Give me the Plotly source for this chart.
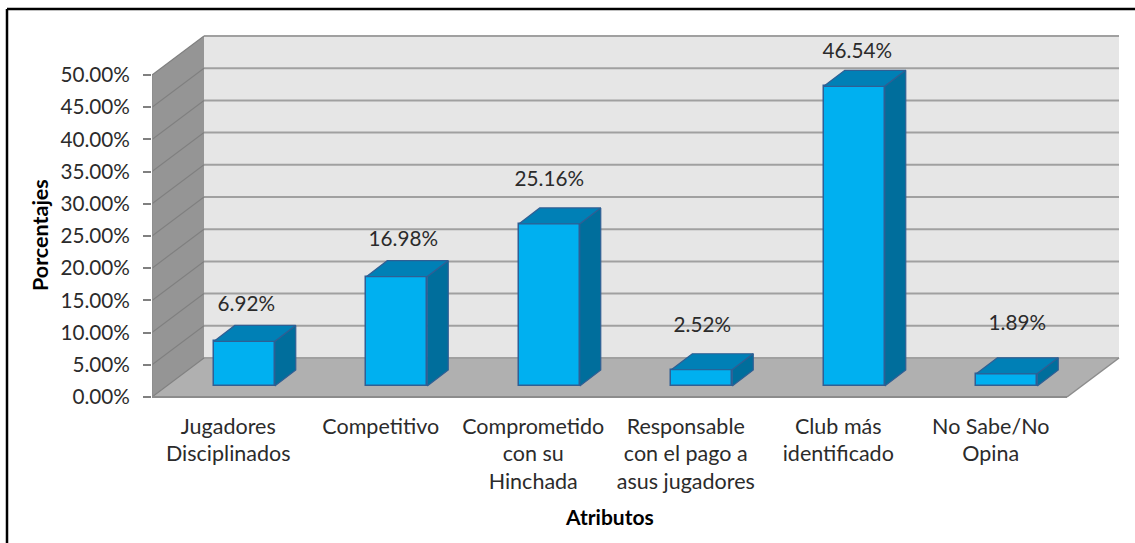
import plotly.graph_objects as go

categories = ["Jugadores<br>Disciplinados", "Competitivo", "Comprometido<br>con su<br>Hinchada",
              "Responsable<br>con el pago a<br>asus jugadores", "Club más<br>identificado", "No Sabe/No<br>Opina"]
values = [6.92, 16.98, 25.16, 2.52, 46.54, 1.89]
value_labels = ["6.92%", "16.98%", "25.16%", "2.52%", "46.54%", "1.89%"]
y_ticks = [0, 5, 10, 15, 20, 25, 30, 35, 40, 45, 50]
y_tick_labels = ["0.00%", "5.00%", "10.00%", "15.00%", "20.00%", "25.00%",
                 "30.00%", "35.00%", "40.00%", "45.00%", "50.00%"]

# style / geometry
FONT = "Lato"
TXT = "#2b2b2b"
PX_X, PX_Y = 152.5, 6.44                  # pixels per category / per percent
L, FRONT_BOTTOM = 152, 397
WALL_DX, WALL_DY = 52 / PX_X, 39 / PX_Y   # depth of the whole box
BAR_DX, BAR_DY = 16 / PX_X, 11 / PX_Y     # front face of the bars inside the box
DEPTH_DX, DEPTH_DY = 21 / PX_X, 16 / PX_Y # depth of the bars
BAR_W = 61 / PX_X
PAD = 3                                   # px of slack round the box
X0, X1 = -0.5, 5.5
Y_MAX = y_ticks[-1]
label_dx = [2, 6.5, 0, 0.5, 3, 10.5]      # px, hand placed labels in the source
label_lift = [19.5, 19.5, 27, 27, 17, 33] # px above the bar's top back edge

x_range = [X0, X1 + WALL_DX + PAD / PX_X]
y_range = [-PAD / PX_Y, Y_MAX + WALL_DY + PAD / PX_Y]
plot_w = (x_range[1] - x_range[0]) * PX_X
plot_h = (y_range[1] - y_range[0]) * PX_Y
top_px = FRONT_BOTTOM + PAD - plot_h


def poly(xs, ys, fill, line=None, lw=0):
    path = "M " + " L ".join(f"{a},{b}" for a, b in zip(xs, ys)) + " Z"
    return dict(type="path", path=path, xref="x", yref="y", fillcolor=fill, layer="below",
                line=dict(color=line or fill, width=lw))


def seg(x0, y0, x1, y1, color, w):
    return dict(type="line", x0=x0, y0=y0, x1=x1, y1=y1, xref="x", yref="y",
                layer="below", line=dict(color=color, width=w))


def px(xp, yp):
    """paper fractions for a pixel position on the page"""
    return (xp - L) / plot_w, (FRONT_BOTTOM + PAD - yp) / plot_h


shapes = [
    poly([X0 + WALL_DX, X1 + WALL_DX, X1 + WALL_DX, X0 + WALL_DX],
         [WALL_DY, WALL_DY, Y_MAX + WALL_DY, Y_MAX + WALL_DY], "#e6e6e6"),
    poly([X0, X0 + WALL_DX, X0 + WALL_DX, X0],
         [0, WALL_DY, Y_MAX + WALL_DY, Y_MAX], "#959595"),
    poly([X0, X1, X1 + WALL_DX, X0 + WALL_DX],
         [0, 0, WALL_DY, WALL_DY], "#b0b0b0"),
]
for t in y_ticks:
    shapes.append(seg(X0 + WALL_DX, t + WALL_DY, X1 + WALL_DX, t + WALL_DY, "#a0a0a0", 2))
    shapes.append(seg(X0, t, X0 + WALL_DX, t + WALL_DY, "#808080", 1.2))
shapes += [
    seg(X0, 0, X1, 0, "#8c8c8c", 2),
    seg(X1, 0, X1 + WALL_DX, WALL_DY, "#8c8c8c", 1.5),
    seg(X0, 0, X0, Y_MAX, "#8c8c8c", 1.5),
]
# outer frame of the chart, running off the page on the right and at the bottom
fx0, fy0 = px(7, 9)
fx1, fy1 = px(1140, 550)
for a, b, c, d in [(fx0, fy0, fx1, fy0), (fx0, fy0, fx0, fy1)]:
    shapes.append(dict(type="line", xref="paper", yref="paper", x0=a, y0=b, x1=c, y1=d,
                       line=dict(color="#000000", width=2.5)))

xs = list(range(len(values)))
fronts_l = [i + BAR_DX - BAR_W / 2 for i in xs]
fronts_r = [i + BAR_DX + BAR_W / 2 for i in xs]
EDGE = "#2f5f94"

top_x, top_y, side_x, side_y = [], [], [], []
for l, r, v in zip(fronts_l, fronts_r, values):
    t = v + BAR_DY
    top_x += [l, r, r + DEPTH_DX, l + DEPTH_DX, l, None]
    top_y += [t, t, t + DEPTH_DY, t + DEPTH_DY, t, None]
    side_x += [r, r + DEPTH_DX, r + DEPTH_DX, r, r, None]
    side_y += [BAR_DY, BAR_DY + DEPTH_DY, t + DEPTH_DY, t, BAR_DY, None]

fig = go.Figure()
fig.add_bar(x=[i + BAR_DX for i in xs], y=values, base=BAR_DY, width=BAR_W,
            marker=dict(color="#00b0f0", line=dict(color=EDGE, width=1.5)), hoverinfo="skip")
fig.add_scatter(x=top_x, y=top_y, mode="lines", fill="toself", fillcolor="#0080b6",
                line=dict(color=EDGE, width=1.2), hoverinfo="skip")
fig.add_scatter(x=side_x, y=side_y, mode="lines", fill="toself", fillcolor="#006e9c",
                line=dict(color=EDGE, width=1.2), hoverinfo="skip")
fig.add_scatter(
    x=[i + BAR_DX + d / PX_X for i, d in zip(xs, label_dx)],
    y=[v + BAR_DY + DEPTH_DY + lift / PX_Y for v, lift in zip(values, label_lift)],
    mode="text", text=value_labels, textposition="middle center",
    textfont=dict(family=FONT, size=20.7, color=TXT), hoverinfo="skip", cliponaxis=False)

ax, _ = px(609, 0)
_, ay = px(0, 516)
bx, _ = px(40, 0)
_, by = px(0, 235)
annotations = [
    dict(text="<b>Atributos</b>", x=ax, y=ay, xref="paper", yref="paper", showarrow=False,
         xanchor="center", yanchor="middle", font=dict(family=FONT, size=21, color="#000000")),
    dict(text="<b>Porcentajes</b>", x=bx, y=by, xref="paper", yref="paper", showarrow=False,
         xanchor="center", yanchor="middle", textangle=-90,
         font=dict(family=FONT, size=21.5, color="#000000")),
]

fig.update_layout(
    width=1135, height=543, autosize=False, showlegend=False,
    paper_bgcolor="white", plot_bgcolor="white",
    margin=dict(l=L, r=1135 - L - plot_w, t=top_px, b=543 - (FRONT_BOTTOM + PAD)),
    shapes=shapes, annotations=annotations, bargap=0,
    xaxis=dict(range=x_range, tickmode="array", tickvals=xs, ticktext=categories,
               tickangle=0, ticks="", showgrid=False, zeroline=False, showline=False,
               ticklabelstandoff=11, tickfont=dict(family=FONT, size=21.5, color=TXT)),
    yaxis=dict(range=y_range, tickmode="array", tickvals=y_ticks, ticktext=y_tick_labels,
               ticks="outside", ticklen=8, tickwidth=2, tickcolor="#808080",
               ticklabelstandoff=9, showgrid=False, zeroline=False, showline=False,
               tickfont=dict(family=FONT, size=20.7, color=TXT)),
)

fig.write_html("out.html", config=dict(displayModeBar=False),
               post_script="document.body.style.margin='0';")
